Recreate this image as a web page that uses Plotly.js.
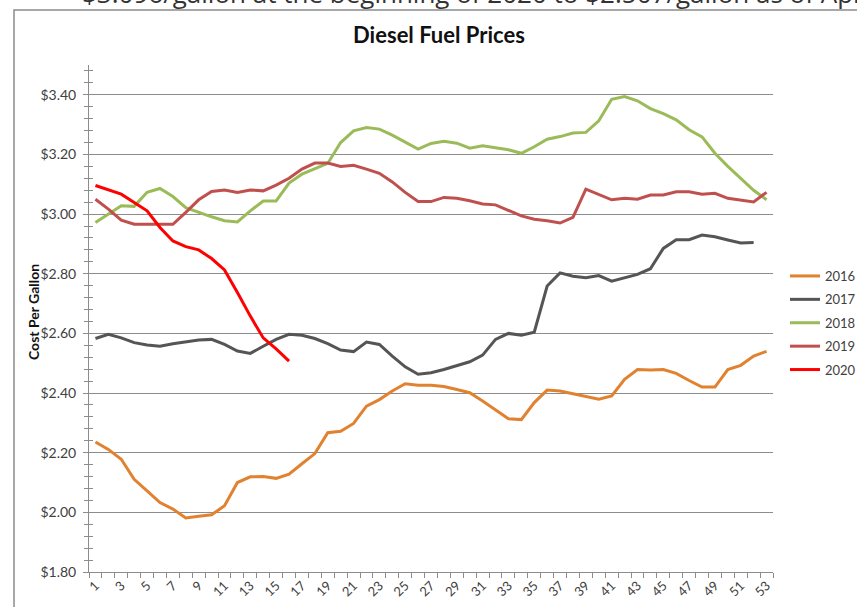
<!DOCTYPE html>
<html>
<head>
<meta charset="utf-8">
<script src="https://cdn.plot.ly/plotly-3.0.1.min.js"></script>
<style>
  html, body { margin: 0; padding: 0; background: #ffffff; }
  #chart { width: 857px; height: 607px; }
</style>
</head>
<body>
<div id="chart"></div>
<script>
// Week numbers (categories)
const weeks = Array.from({length: 53}, (_, k) => k + 1);

// Diesel price per gallon by week
const y2016 = [2.236, 2.211, 2.178, 2.111, 2.072, 2.033, 2.011, 1.981, 1.987, 1.992,
               2.022, 2.100, 2.119, 2.120, 2.114, 2.128, 2.163, 2.197, 2.267, 2.272,
               2.298, 2.356, 2.378, 2.407, 2.431, 2.426, 2.426, 2.422, 2.412, 2.401,
               2.373, 2.343, 2.314, 2.311, 2.368, 2.410, 2.407, 2.398, 2.388, 2.379,
               2.390, 2.446, 2.479, 2.477, 2.479, 2.466, 2.442, 2.420, 2.420, 2.479,
               2.493, 2.524, 2.540];
const y2017 = [2.583, 2.597, 2.585, 2.569, 2.561, 2.557, 2.565, 2.572, 2.578, 2.580,
               2.563, 2.541, 2.533, 2.557, 2.580, 2.597, 2.594, 2.583, 2.566, 2.544,
               2.539, 2.571, 2.563, 2.524, 2.488, 2.463, 2.468, 2.479, 2.491, 2.505,
               2.527, 2.580, 2.600, 2.594, 2.604, 2.759, 2.803, 2.792, 2.787, 2.794,
               2.775, 2.787, 2.798, 2.817, 2.885, 2.914, 2.914, 2.930, 2.924, 2.913,
               2.903, 2.905];
const y2018 = [2.972, 3.000, 3.028, 3.026, 3.073, 3.086, 3.059, 3.022, 3.006, 2.991,
               2.978, 2.974, 3.011, 3.044, 3.044, 3.104, 3.134, 3.153, 3.170, 3.240,
               3.279, 3.290, 3.285, 3.265, 3.242, 3.218, 3.237, 3.244, 3.238, 3.221,
               3.229, 3.223, 3.216, 3.204, 3.226, 3.251, 3.260, 3.272, 3.274, 3.313,
               3.385, 3.394, 3.380, 3.354, 3.337, 3.316, 3.283, 3.259, 3.204, 3.160,
               3.121, 3.080, 3.048];
const y2019 = [3.050, 3.017, 2.980, 2.966, 2.966, 2.966, 2.966, 3.006, 3.048, 3.076,
               3.081, 3.073, 3.081, 3.078, 3.097, 3.120, 3.151, 3.171, 3.171, 3.160,
               3.164, 3.151, 3.137, 3.108, 3.073, 3.042, 3.042, 3.056, 3.053, 3.045,
               3.034, 3.031, 3.013, 2.994, 2.983, 2.978, 2.970, 2.989, 3.084, 3.067,
               3.048, 3.053, 3.050, 3.064, 3.064, 3.075, 3.075, 3.067, 3.070, 3.053,
               3.048, 3.041, 3.073];
const y2020 = [3.096, 3.082, 3.067, 3.039, 3.011, 2.955, 2.910, 2.891, 2.880, 2.851,
               2.813, 2.737, 2.658, 2.585, 2.548, 2.507];

const seriesNames = ["2016", "2017", "2018", "2019", "2020"];
const seriesData = [y2016, y2017, y2018, y2019, y2020];
const seriesColors = ["#E0822F", "#555555", "#9BBB59", "#C0504D", "#FF0000"];

const chartTitle = "Diesel Fuel Prices";
const yTitle = "Cost Per Gallon";
const topText = "$3.096/gallon at the beginning of 2020 to $2.507/gallon as of April";

const FONT = "Lato, 'Open Sans', sans-serif";
const GRID = "#8C8C8C";

const traces = seriesData.map((vals, k) => ({
  type: "scatter",
  mode: "lines",
  name: seriesNames[k],
  legendgroup: seriesNames[k],
  x: weeks.slice(0, vals.length),
  y: vals,
  line: {color: seriesColors[k], width: 3},
  hoverinfo: "x+y+name"
}));
// empty helper trace so the overlay axis (inner half of crossing ticks) is drawn
traces.push({type: "scatter", mode: "lines", x: [null], y: [null], yaxis: "y2", showlegend: false, hoverinfo: "skip"});

// Plot area in pixels: x 89..773, y 65..572
const L = 89, R = 773, T = 65, B = 572;
const px2x = p => (p - L) / (R - L);
const px2y = p => (B - p) / (B - T);

const layout = {
  width: 857,
  height: 607,
  margin: {l: L, r: 857 - R, t: T, b: 607 - B, pad: 0, autoexpand: false},
  paper_bgcolor: "#ffffff",
  plot_bgcolor: "#ffffff",
  font: {family: FONT, color: "#404040", size: 13},
  showlegend: true,
  title: {
    text: "<b>" + chartTitle + "</b>",
    font: {family: FONT, size: 22, color: "#111111"},
    x: 439 / 857, xref: "container", xanchor: "center",
    y: 1 - 35 / 607, yref: "container", yanchor: "middle"
  },
  xaxis: {
    range: [0.5, 53.5],
    tickmode: "linear", tick0: 1, dtick: 2,
    ticks: "", showgrid: false, zeroline: false,
    showline: true, linecolor: GRID, linewidth: 1,
    tickangle: -45,
    tickfont: {family: FONT, size: 13, color: "#404040"},
    minor: {tickmode: "linear", tick0: 0.5, dtick: 1, ticks: "outside", ticklen: 5, tickcolor: GRID, showgrid: false},
    fixedrange: true
  },
  yaxis: {
    range: [1.8, 3.5],
    tickmode: "linear", tick0: 1.8, dtick: 0.2,
    tickformat: "$.2f",
    ticks: "outside", ticklen: 5, tickcolor: GRID,
    showgrid: true, gridcolor: GRID, gridwidth: 1,
    zeroline: false,
    showline: true, linecolor: GRID, linewidth: 1,
    tickfont: {family: FONT, size: 14, color: "#404040"},
    ticklabelstandoff: 4,
    minor: {tickmode: "linear", tick0: 1.8, dtick: 0.04, ticks: "outside", ticklen: 4, tickcolor: GRID, showgrid: false},
    fixedrange: true
  },
  yaxis2: {
    overlaying: "y", side: "left", anchor: "x",
    range: [1.8, 3.5],
    tickmode: "linear", tick0: 1.8, dtick: 0.2,
    ticks: "inside", ticklen: 5, tickcolor: GRID,
    showticklabels: false, showgrid: false, zeroline: false, showline: false,
    minor: {tickmode: "linear", tick0: 1.8, dtick: 0.04, ticks: "inside", ticklen: 4, tickcolor: GRID, showgrid: false},
    fixedrange: true
  },
  legend: {
    x: px2x(785), xanchor: "left",
    y: px2y(261), yanchor: "top",
    font: {family: FONT, size: 13, color: "#404040"},
    traceorder: "grouped",
    tracegroupgap: 3.5,
    bgcolor: "rgba(0,0,0,0)",
    itemwidth: 30
  },
  annotations: [
    {
      text: "<b>" + yTitle + "</b>",
      xref: "paper", yref: "paper",
      x: px2x(33), y: px2y(312),
      xanchor: "center", yanchor: "middle",
      textangle: -90, showarrow: false,
      font: {family: FONT, size: 14, color: "#111111"}
    },
    {
      text: topText,
      xref: "paper", yref: "paper",
      x: px2x(80), y: px2y(13),
      xanchor: "left", yanchor: "bottom",
      showarrow: false,
      font: {family: "'Open Sans', sans-serif", size: 26, color: "#333333"}
    }
  ],
  shapes: [
    {
      type: "rect", xref: "paper", yref: "paper",
      x0: px2x(14), x1: px2x(900), y0: px2y(700), y1: px2y(10),
      line: {color: "#8C8C8C", width: 1.5},
      fillcolor: "rgba(0,0,0,0)",
      layer: "below"
    }
  ]
};

Plotly.newPlot("chart", traces, layout, {displayModeBar: false, staticPlot: true});
</script>
</body>
</html>
